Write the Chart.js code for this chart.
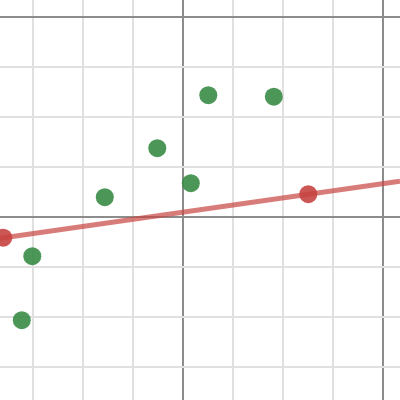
<!DOCTYPE html>
<html>
<head>
<meta charset="utf-8">
<script src="https://cdn.jsdelivr.net/npm/chart.js@4"></script>
<style>
  html, body { margin: 0; padding: 0; background: #fff; }
  #wrap { width: 400px; height: 400px; }
</style>
</head>
<body>
<div id="wrap"><canvas id="graph" width="400" height="400"></canvas></div>
<script>
// visible window of the graph (graph units)
const xRange = [-3.656, 4.344];
const yRange = [-3.666, 4.334];

// green sample points
const greenX = [0.51, 1.82, -0.51, 0.16, -1.56, -3.01, -3.22];
const greenY = [2.43, 2.40, 1.37, 0.67, 0.39, -0.79, -2.07];

// red points sitting on the fitted line
const redX = [-3.59, 2.51];
const redY = [-0.42, 0.45];

// fitted line y = slope * x + intercept
const fitSlope = 0.1426;
const fitIntercept = 0.092;

// grid: light every 1 unit, dark every 4 units
const gridTicks = [-3, -2, -1, 0, 1, 2, 3, 4];
const majorEvery = 4;

function toPoints(xs, ys) {
    return xs.map((x, i) => ({ x: x, y: ys[i] }));
}

function linePoints() {
    return xRange.map(x => ({ x: x, y: fitSlope * x + fitIntercept }));
}

function gridColor(ctx) {
    const v = ctx.tick ? ctx.tick.value : 0;
    return v % majorEvery === 0 ? '#8c8c8c' : '#e0e0e0';
}

function axis(range) {
    return {
        type: 'linear',
        min: range[0],
        max: range[1],
        afterBuildTicks: function(scale) {
            scale.ticks = gridTicks.map(v => ({ value: v }));
        },
        ticks: { display: false },
        border: { display: false },
        grid: {
            color: gridColor,
            lineWidth: 2,
            drawTicks: false
        }
    };
}

new Chart(document.getElementById('graph'), {
    type: 'scatter',
    data: {
        datasets: [
            {
                label: 'green',
                data: toPoints(greenX, greenY),
                backgroundColor: 'rgba(56, 140, 70, 0.9)',
                borderWidth: 0,
                pointRadius: 9,
                order: 0
            },
            {
                label: 'red',
                data: toPoints(redX, redY),
                backgroundColor: 'rgba(199, 68, 64, 0.9)',
                borderWidth: 0,
                pointRadius: 9,
                order: 1
            },
            {
                label: 'fit',
                data: linePoints(),
                showLine: true,
                borderColor: 'rgba(199, 68, 64, 0.7)',
                borderWidth: 5,
                pointRadius: 0,
                order: 2
            }
        ]
    },
    options: {
        responsive: false,
        animation: false,
        layout: { padding: 0, autoPadding: false },
        plugins: {
            legend: { display: false },
            tooltip: { enabled: false }
        },
        scales: {
            x: axis(xRange),
            y: axis(yRange)
        }
    }
});
</script>
</body>
</html>
